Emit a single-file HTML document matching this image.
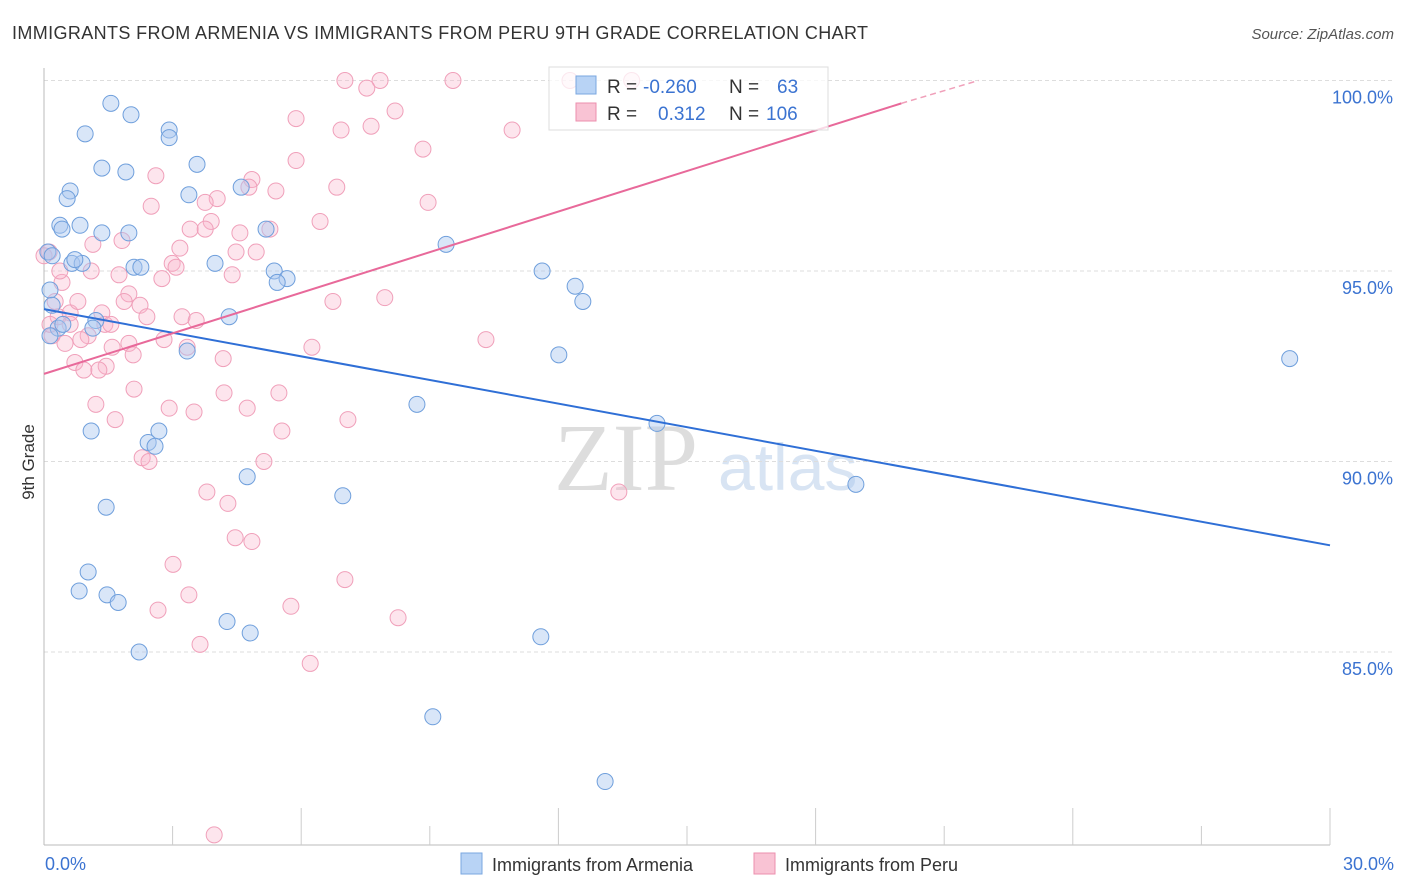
<!DOCTYPE html>
<html><head><meta charset="utf-8">
<style>
body{margin:0;background:#fff;font-family:"Liberation Sans",sans-serif;}
#wrap{position:relative;width:1406px;height:892px;overflow:hidden}
</style></head>
<body>
<div id="wrap">
<svg id="svg" width="1406" height="892" xmlns="http://www.w3.org/2000/svg" font-family="Liberation Sans, sans-serif">
<text x="12" y="39" font-size="18" fill="#333" textLength="856">IMMIGRANTS FROM ARMENIA VS IMMIGRANTS FROM PERU 9TH GRADE CORRELATION CHART</text>
<text x="1394" y="39" font-size="15" fill="#555" font-style="italic" text-anchor="end">Source: ZipAtlas.com</text>
<text x="34" y="462" font-size="17" fill="#333" transform="rotate(-90 34 462)" text-anchor="middle">9th Grade</text>
<text x="554" y="490" font-size="96" fill="#ddd" font-family="Liberation Serif, serif">ZIP</text>
<text x="718" y="490" font-size="66" fill="#d8e4f3">atlas</text>
<g id="grid"></g><g id="axes"></g><g id="pts"></g><g id="lines"></g>
<g>
<rect x="549" y="67" width="279" height="63" fill="rgba(255,255,255,0.75)" stroke="#ddd"/>
<rect x="576" y="76" width="20" height="18" fill="#b8d3f5" stroke="#7aa7e0"/>
<text x="607" y="93" font-size="19" fill="#333">R = </text><text x="643" y="93" font-size="19" fill="#3b73d1">-0.260</text>
<text x="729" y="93" font-size="19" fill="#333">N = </text><text x="777" y="93" font-size="19" fill="#3b73d1">63</text>
<rect x="576" y="103" width="20" height="18" fill="#f9c3d4" stroke="#ec8fae"/>
<text x="607" y="120" font-size="19" fill="#333">R = </text><text x="658" y="120" font-size="19" fill="#3b73d1">0.312</text>
<text x="729" y="120" font-size="19" fill="#333">N = </text><text x="766" y="120" font-size="19" fill="#3b73d1">106</text>
</g>
<g>
<rect x="461" y="853" width="21" height="21" fill="#b8d3f5" stroke="#7aa7e0"/>
<text x="492" y="871" font-size="18" fill="#333">Immigrants from Armenia</text>
<rect x="754" y="853" width="21" height="21" fill="#f9c3d4" stroke="#ec8fae"/>
<text x="785" y="871" font-size="18" fill="#333">Immigrants from Peru</text>
</g>
</svg>
</div>
<script>
const yTicks=[100,95,90,85];
const xTickLabels=["0.0%","30.0%"];
const armeniaX=[1.56,2.03,0.96,2.92,2.92,1.35,1.91,3.57,0.61,0.54,3.38,4.6,0.37,0.84,0.42,1.35,1.98,5.18,0.09,0.19,0.65,0.89,0.72,2.1,2.26,3.99,5.37,5.67,5.44,9.38,11.62,12.39,12.57,0.14,0.19,1.21,1.14,0.33,0.44,0.14,4.32,3.34,12.01,29.06,8.7,14.3,1.1,2.68,2.43,2.59,4.74,6.97,18.94,1.45,1.03,0.82,1.47,1.73,4.27,4.81,11.59,2.22,9.07,13.09];
const armeniaY=[99.4,99.1,98.6,98.7,98.5,97.7,97.6,97.8,97.1,96.9,97.0,97.2,96.2,96.2,96.1,96.0,96.0,96.1,95.5,95.4,95.2,95.2,95.3,95.1,95.1,95.2,95.0,94.8,94.7,95.7,95.0,94.6,94.2,94.5,94.1,93.7,93.5,93.5,93.6,93.3,93.8,92.9,92.8,92.7,91.5,91.0,90.8,90.8,90.5,90.4,89.6,89.1,89.4,88.8,87.1,86.6,86.5,86.3,85.8,85.5,85.4,85.0,83.3,81.6];
const peruX=[7.02,7.84,9.54,12.27,13.71,7.53,8.19,5.88,6.93,7.63,10.92,8.84,5.88,2.61,4.85,6.83,4.78,5.41,4.04,2.5,8.96,3.76,6.44,3.9,3.41,3.76,4.57,5.27,1.82,1.14,3.17,4.48,4.95,2.99,3.08,1.75,4.39,2.75,0.12,0.42,1.98,1.87,2.24,2.4,1.35,3.22,1.42,6.74,7.95,0.33,0.61,1.56,3.55,0.61,1.03,0.86,1.59,1.98,2.8,3.34,6.25,10.31,0.72,1.45,2.08,4.18,0.93,1.28,2.1,4.2,5.48,1.21,2.92,3.5,4.74,7.09,1.66,5.55,2.29,2.45,5.13,3.8,4.29,13.41,4.46,4.85,3.01,7.02,3.38,2.66,5.76,8.26,3.64,6.21,3.97,0.19,0.26,0.14,0.49,0.79,0.0,0.37,1.1];
const peruY=[100.0,100.0,100.0,100.0,100.0,99.8,99.2,99.0,98.7,98.8,98.7,98.2,97.9,97.5,97.4,97.2,97.2,97.1,96.9,96.7,96.8,96.8,96.3,96.3,96.1,96.1,96.0,96.1,95.8,95.7,95.6,95.5,95.5,95.2,95.1,94.9,94.9,94.8,95.5,94.7,94.4,94.2,94.1,93.8,93.9,93.8,93.6,94.2,94.3,93.8,93.9,93.6,93.7,93.6,93.3,93.2,93.0,93.1,93.2,93.0,93.0,93.2,92.6,92.5,92.8,92.7,92.4,92.4,91.9,91.8,91.8,91.5,91.4,91.3,91.4,91.1,91.1,90.8,90.1,90.0,90.0,89.2,88.9,89.2,88.0,87.9,87.3,86.9,86.5,86.1,86.2,85.9,85.2,84.7,80.2,93.3,94.2,93.6,93.1,94.2,95.4,95.0,95.0];
const blueLine=[0,94.0,30,87.8];
const pinkLine=[0,92.3,20.0,99.4];
const pinkDash=[20.0,99.4,21.8,100.0];
const X=v=>44+v*(1286/30);
const Y=v=>80.5+(100-v)*38.1;
const NS="http://www.w3.org/2000/svg";
function mk(tag,attrs,parent){const e=document.createElementNS(NS,tag);for(const k in attrs)e.setAttribute(k,attrs[k]);parent.appendChild(e);return e;}
const grid=document.getElementById('grid'),axes=document.getElementById('axes'),pts=document.getElementById('pts'),lines=document.getElementById('lines');
yTicks.forEach(v=>{
 const l=mk('line',{x1:44,x2:1394,y1:Y(v),y2:Y(v),stroke:'#ddd','stroke-dasharray':'4,3'},grid);
 
 
 const t=mk('text',{x:1393,y:Y(v)+23,'font-size':18,fill:'#3b73d1','text-anchor':'end'},grid);
 t.textContent=v.toFixed(1)+'%';
 
 
});
let ax=mk('line',{x1:44,x2:44,y1:68,y2:845,stroke:'#bbb'},axes);


let bx=mk('line',{x1:44,x2:1330,y1:845,y2:845,stroke:'#bbb'},axes);


for(let i=1;i<=10;i++){
 const tk=mk('line',{x1:X(i*3),x2:X(i*3),y1:(i%2==0)?808:826,y2:845,stroke:'#ccc'},axes);
 
 
}
const xl0=mk('text',{x:45,y:870,'font-size':18,fill:'#3b73d1'},axes);xl0.textContent=xTickLabels[0];


const xl1=mk('text',{x:1394,y:870,'font-size':18,fill:'#3b73d1','text-anchor':'end'},axes);xl1.textContent=xTickLabels[1];


peruX.forEach((x,i)=>{
 const c=mk('circle',{cx:X(x),cy:Y(peruY[i]),r:8,fill:'rgba(249,180,202,0.35)',stroke:'#f0a0ba','stroke-width':1},pts);
 
 
});
armeniaX.forEach((x,i)=>{
 const c=mk('circle',{cx:X(x),cy:Y(armeniaY[i]),r:8,fill:'rgba(170,200,240,0.45)',stroke:'#6f9fdc','stroke-width':1},pts);
 
 
});
const bl=mk('line',{x1:X(blueLine[0]),y1:Y(blueLine[1]),x2:X(blueLine[2]),y2:Y(blueLine[3]),stroke:'#2f6fd6','stroke-width':2},lines);


const pl=mk('line',{x1:X(pinkLine[0]),y1:Y(pinkLine[1]),x2:X(pinkLine[2]),y2:Y(pinkLine[3]),stroke:'#e8699a','stroke-width':2},lines);


const pd=mk('line',{x1:X(pinkDash[0]),y1:Y(pinkDash[1]),x2:X(pinkDash[2]),y2:Y(pinkDash[3]),stroke:'#f0a0ba','stroke-width':1.5,'stroke-dasharray':'6,4'},lines);


</script>
</body></html>
